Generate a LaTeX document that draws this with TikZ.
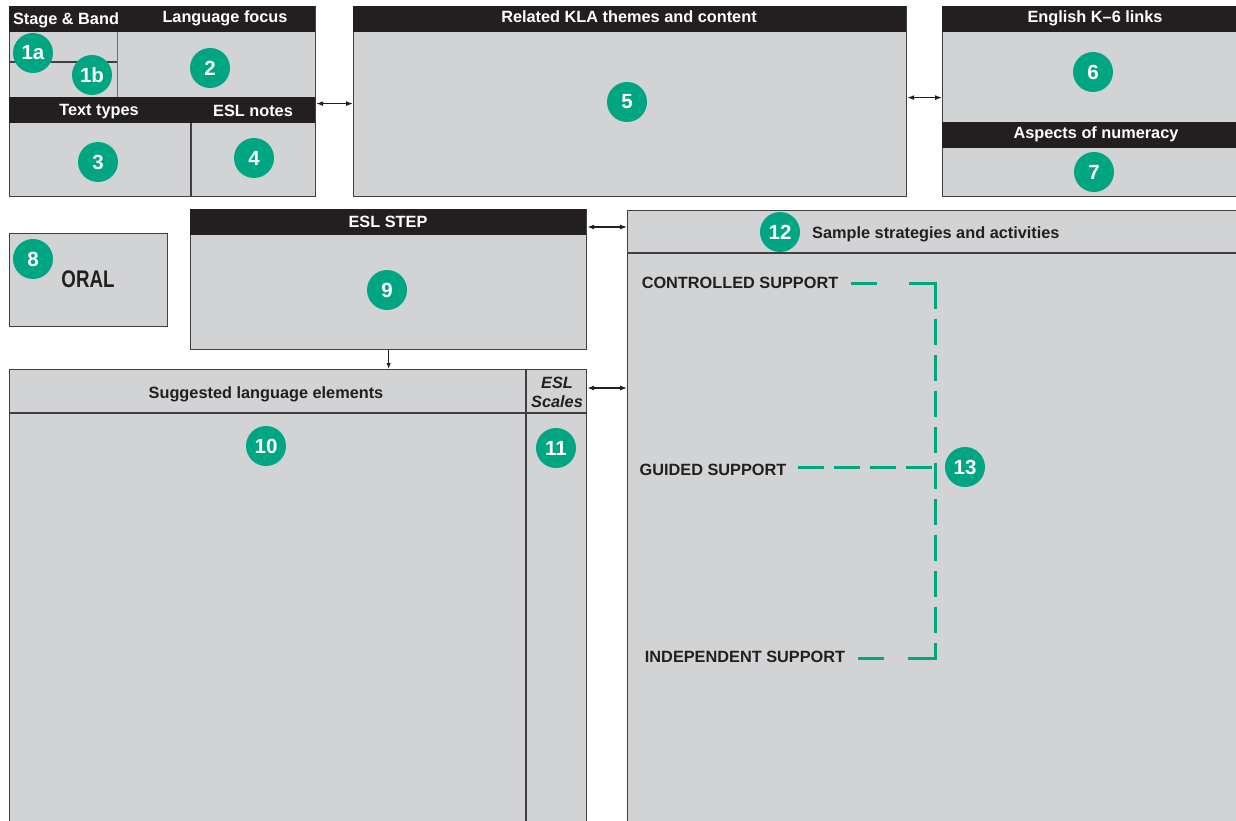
\documentclass[tikz,border=0pt]{standalone}
\usepackage{fontspec}
\setmainfont{Liberation Sans}
\usetikzlibrary{positioning,arrows.meta}
\definecolor{panelgrey}{RGB}{209,211,212}
\definecolor{barblack}{RGB}{35,31,32}
\definecolor{stepgreen}{RGB}{0,166,129}
\definecolor{edgegrey}{RGB}{64,64,66}
\tikzset{
  panel/.style={draw=edgegrey, fill=panelgrey, line width=1.2pt, anchor=north west, inner sep=0pt},
  bartext/.style={text=white, font=\fontsize{16.3}{19}\selectfont\bfseries, inner sep=0pt, anchor=base},
  cuetext/.style={text=barblack, font=\fontsize{16.3}{19}\selectfont\bfseries, inner sep=0pt, anchor=base},
  numdot/.style={circle, fill=stepgreen, text=white, minimum size=40pt, inner sep=0pt, font=\fontsize{20.5}{22}\selectfont\bfseries},
  link/.style={{Latex[length=7pt,width=5pt]}-{Latex[length=7pt,width=5pt]}, line width=1.1pt, barblack},
  guide/.style={stepgreen, line width=3pt, dash pattern=on 26pt off 10pt},
  stub/.style={stepgreen, line width=3pt},
  rule/.style={edgegrey, line width=1.2pt}
}
\begin{document}
\begin{tikzpicture}[x=1pt,y=-1pt]
\useasboundingbox (0,0) rectangle (1236,821);
\clip (0,0) rectangle (1236,821);

% stage & band / language focus / text types / ESL notes
\node[panel, minimum width=306pt, minimum height=190pt] (bandbox) at (9,6) {};
\fill[barblack] (9,6) rectangle (315,32); % top bar
\fill[barblack] (9,97) rectangle (315,123); % middle bar
\draw[stepgreen, line width=1pt] (117,32) -- (117,97); % 1a/1b | 2
\draw[rule] (9,62) -- (117,62); % 1a / 1b
\draw[rule] (191,123) -- (191,196); % 3 | 4
\node[bartext] (stagetxt) at (66,25) {Stage \& Band};
\node[bartext] (focustxt) at (225,23) {Language focus};
\node[bartext] (typestxt) at (99,116) {Text types};
\node[bartext] (notestxt) at (253,117) {ESL notes};
\node[numdot] (n1a) at (33,53) {1a};
\node[numdot] (n1b) at (92,75) {1b};
\node[numdot] (n2) at (210,68) {2};
\node[numdot] (n3) at (98,162) {3};
\node[numdot] (n4) at (254,158) {4};

% KLA themes
\node[panel, minimum width=553pt, minimum height=190pt] (kla) at (353,6) {};
\fill[barblack] (353,6) rectangle (906,32);
\node[bartext] (klatxt) at (629,23) {Related KLA themes and content};
\node[numdot] (n5) at (627,102) {5};

% English links / numeracy
\node[panel, minimum width=310pt, minimum height=190pt] (links) at (942,6) {};
\fill[barblack] (942,6) rectangle (1252,32);
\fill[barblack] (942,122) rectangle (1252,148);
\node[bartext] (linkstxt) at (1095,23) {English K–6 links};
\node[bartext] (numtxt) at (1096,139) {Aspects of numeracy};
\node[numdot] (n6) at (1093,72) {6};
\node[numdot] (n7) at (1094,172) {7};

\draw[link] ([yshift=-2pt]bandbox.east) -- ([yshift=-2pt]kla.west);
\draw[link] ([yshift=4pt]kla.east) -- ([yshift=4pt]links.west);

% oral
\node[panel, minimum width=158pt, minimum height=93pt] (oral) at (9,233) {};
\node[numdot] (n8) at (33,259) {8};
\node[text=barblack, inner sep=0pt, anchor=base] (oraltxt) at (88,287)
  {\scalebox{0.78}[1]{\fontsize{24}{24}\selectfont\bfseries ORAL}};

% ESL step
\node[panel, minimum width=396pt, minimum height=140pt] (stepbox) at (190,209) {};
\fill[barblack] (190,209) rectangle (586,235);
\node[bartext] (steptxt) at (388,227) {ESL STEP};
\node[numdot] (n9) at (387,290) {9};

% language elements / scales
\node[panel, minimum width=577pt, minimum height=470pt] (lang) at (9,369) {};
\draw[rule] (9,413) -- (586,413);
\draw[rule] (526,369) -- (526,830);
\node[cuetext] (langtxt) at (266,398) {Suggested language elements};
\node[cuetext, font=\fontsize{16.3}{19}\selectfont\bfseries\itshape] (scales) at (557,388) {ESL};
\node[cuetext, font=\fontsize{16.3}{19}\selectfont\bfseries\itshape] (scalestwo) at (557,407) {Scales};
\node[numdot] (n10) at (266,446) {10};
\node[numdot] (n11) at (556,448) {11};

% strategies
\node[panel, minimum width=625pt, minimum height=620pt] (strat) at (627,210) {};
\draw[rule] (627,253) -- (1252,253);
\node[numdot] (n12) at (780,232) {12};
\node[cuetext, anchor=base west] (strattxt) at (812,238) {Sample strategies and activities};

\draw[link] (stepbox.east |- steptxt.base) -- (strat.west |- steptxt.base);
\draw[link] (lang.east |- scales.base) -- (strat.west |- scales.base);
\draw[-{Latex[length=6pt,width=4.5pt]}, line width=1.1pt, barblack] (stepbox.south) -- (stepbox.south |- lang.north);

% support levels
\node[cuetext] (ctrl) at (740,288) {CONTROLLED SUPPORT};
\node[cuetext] (guid) at (713,475) {GUIDED SUPPORT};
\node[cuetext] (indep) at (745,662) {INDEPENDENT SUPPORT};
\coordinate (brtop) at (935,283);
\coordinate (brmid) at (935,467);
\coordinate (brbot) at (935,658);
\draw[stub] ([xshift=13pt]ctrl.east |- brtop) -- +(26,0);
\draw[stub] ([xshift=13pt]indep.east |- brbot) -- +(26,0);
\draw[stub] ([xshift=-26pt]brtop) -- ([xshift=1.5pt]brtop);
\draw[stub] ([xshift=-27pt]brbot) -- ([xshift=1.5pt]brbot);
\draw[guide] (brtop) -- (brbot);
\draw[guide] ([xshift=11pt]guid.east |- brmid) -- (brmid);
\node[numdot] (n13) at (965,467) {13};

\end{tikzpicture}
\end{document}
